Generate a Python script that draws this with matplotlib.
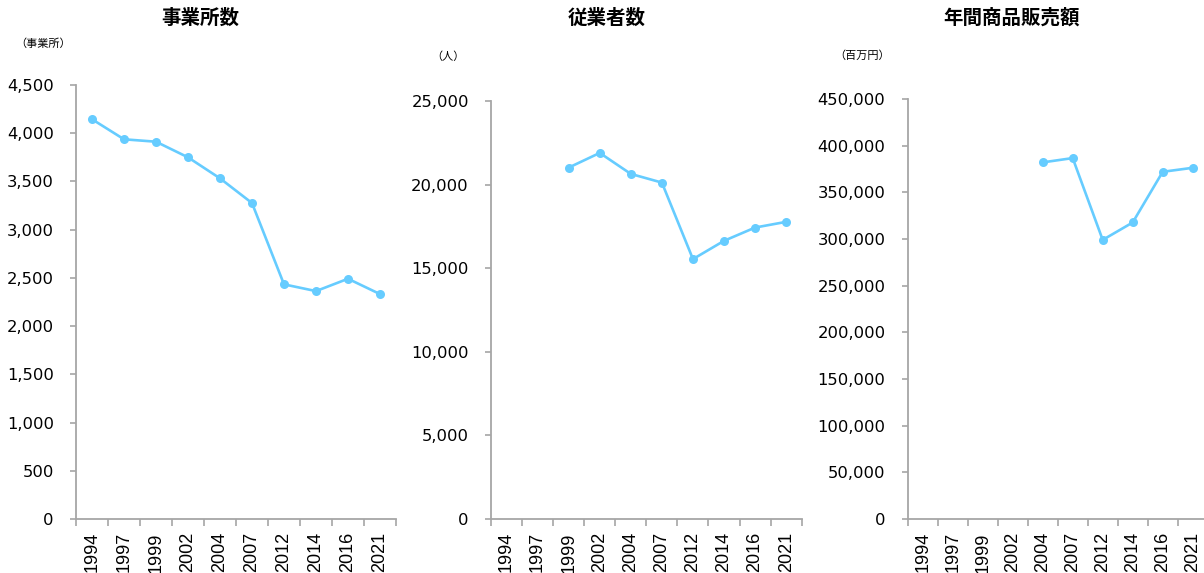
import numpy as np
import matplotlib
matplotlib.use("Agg")
import matplotlib.pyplot as plt

years = ["1994", "1997", "1999", "2002", "2004", "2007", "2012", "2014", "2016", "2021"]

# 事業所数
establishments = [4145, 3937, 3912, 3750, 3532, 3276, 2433, 2363, 2491, 2332]
# 従業者数 (no data for 1994, 1997)
employees = [np.nan, np.nan, 21016, 21894, 20639, 20120, 15544, 16637, 17431, 17772]
# 年間商品販売額 (no data before 2004)
sales = [np.nan, np.nan, np.nan, np.nan, 382082, 386695, 299034, 317704, 371996, 376288]

titles = ["事業所数", "従業者数", "年間商品販売額"]
units = ["（事業所）", "（人）", "（百万円）"]
ymax = [4500, 25000, 450000]
ystep = [500, 5000, 50000]

LINE = "#66CCFF"
AXIS = "#A6A6A6"
CJK = ["Noto Sans CJK JP", "DejaVu Sans"]

fig = plt.figure(figsize=(12.04, 5.73), dpi=100)

# axes boxes in pixels: left, top, right, bottom
boxes = [(76, 85, 396, 519), (491, 101, 801.7, 519), (907.7, 99, 1207.7, 519)]
title_x = [200, 607, 1012]
unit_pos = [(43, 44), (448, 57), (862, 56)]

W, H = 1204, 573
for i, series in enumerate([establishments, employees, sales]):
    l, t, r, b = boxes[i]
    ax = fig.add_axes([l / W, (H - b) / H, (r - l) / W, (b - t) / H])
    x = np.arange(len(years))
    ax.plot(x, series, color=LINE, lw=1.9, marker="o", markersize=6.5,
            markeredgewidth=0, solid_capstyle="round")
    ax.set_xlim(-0.5, len(years) - 0.5)
    ax.set_ylim(0, ymax[i])
    yt = np.arange(0, ymax[i] + 1, ystep[i])
    ax.set_yticks(yt)
    ax.set_yticklabels([f"{v:,}" for v in yt], fontsize=11.8, family="DejaVu Sans")
    ax.set_xticks(x)
    ax.set_xticklabels(years, rotation=90, fontsize=13, family="Liberation Sans",
                       va="top")
    ax.set_xticks(np.arange(-0.5, len(years)), minor=True)
    ax.tick_params(axis="x", which="major", length=0, pad=9.5)
    ax.tick_params(axis="x", which="minor", length=5, width=1.2, color=AXIS,
                   direction="out")
    ax.tick_params(axis="y", length=4, width=1.2, color=AXIS, pad=12)
    for s in ["top", "right"]:
        ax.spines[s].set_visible(False)
    for s in ["left", "bottom"]:
        ax.spines[s].set_color(AXIS)
        ax.spines[s].set_linewidth(1.3)
    ax.patch.set_alpha(0)
    fig.text(title_x[i] / W, 1 - 18 / H, titles[i], ha="center", va="center",
             fontsize=14, fontweight="bold", family=CJK)
    ux, uy = unit_pos[i]
    fig.text(ux / W, 1 - uy / H, units[i], ha="center", va="center",
             fontsize=8, family=CJK)

fig.savefig("out.png", dpi=100)
